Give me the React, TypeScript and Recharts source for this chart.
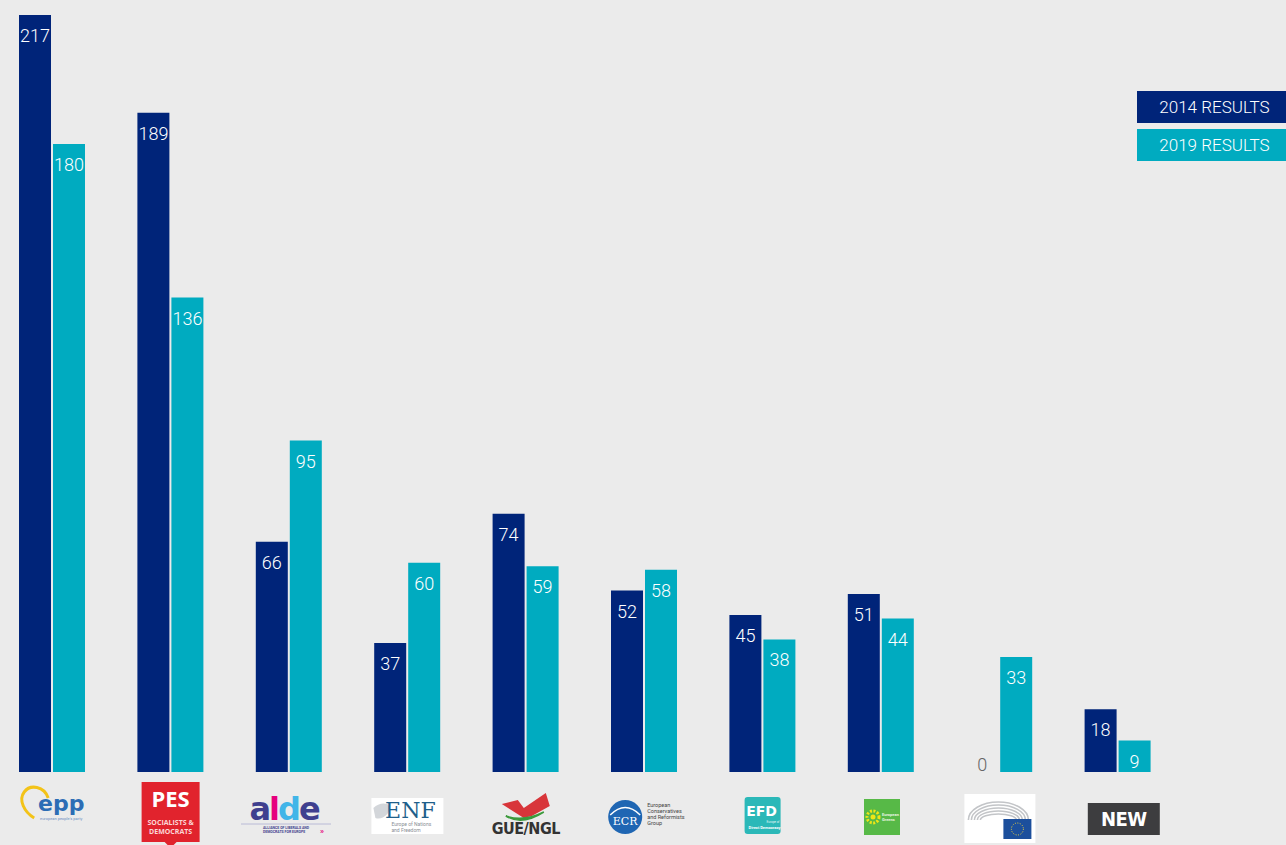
import React from "react";
import { BarChart, Bar, XAxis, YAxis, LabelList, Rectangle } from "recharts";

const groups = ["EPP", "S&D", "ALDE", "ENF", "GUE/NGL", "ECR", "EFDD", "Greens/EFA", "NI", "NEW"];
const results2014 = [217, 189, 66, 37, 74, 52, 45, 51, 0, 18];
const results2019 = [180, 136, 95, 60, 59, 58, 38, 44, 33, 9];
const seriesNames = ["2014 RESULTS", "2019 RESULTS"];
const DARK = "#002479";
const TEAL = "#00abc0";
const FONT = "Roboto, 'Liberation Sans', Arial, sans-serif";

const data = groups.map((g, i) => ({ group: g, r2014: results2014[i], r2019: results2019[i] }));

const ValueLabel = (props: any) => {
  const { x, y, width, value } = props;
  if (!value) return null;
  const cx = x + width / 2;
  return (
    <text x={cx} y={y + 27} textAnchor="middle" fill="#fff" fontSize={18} fontWeight={300} fontFamily={FONT}>
      {value}
    </text>
  );
};

const BarShape = (props: any) => {
  const { x, y, width, height, fill, value } = props;
  const v = Array.isArray(value) ? value[1] - value[0] : value;
  if (!height || v === 0) {
    return (
      <text x={x + width / 2} y={y - 1} textAnchor="middle" fill="#666" fontSize={18} fontWeight={300} fontFamily={FONT}>
        0
      </text>
    );
  }
  return <Rectangle x={x} y={y} width={width} height={height} fill={fill} />;
};

const Logo = ({ name, cx, y0 }: { name: string; cx: number; y0: number }) => {
  const t = (d: number) => y0 + d;
  switch (name) {
    case "EPP":
      return (
        <g>
          <path d={`M ${cx - 4} ${t(26)} C ${cx - 8} ${t(14)}, ${cx - 22} ${t(12)}, ${cx - 28} ${t(20)} C ${cx - 34} ${t(28)}, ${cx - 28} ${t(40)}, ${cx - 18} ${t(46)}`} fill="none" stroke="#f3c318" strokeWidth={3} />
          <text x={cx + 9} y={t(39)} textAnchor="middle" fill="#2c6db5" fontSize={22} fontWeight={700} fontFamily="'DejaVu Sans', sans-serif">epp</text>
          <text x={cx + 9} y={t(48)} textAnchor="middle" fill="#6b8fc4" fontSize={4} fontFamily={FONT}>european people's party</text>
        </g>
      );
    case "S&D":
      return (
        <g>
          <rect x={cx - 29} y={t(10)} width={58} height={60} fill="#e1232d" />
          <path d={`M ${cx - 6} ${t(70)} L ${cx + 6} ${t(70)} L ${cx} ${t(76)} Z`} fill="#e1232d" />
          <text x={cx} y={t(35)} textAnchor="middle" fill="#fff" fontSize={22} fontWeight={700} fontFamily="'Open Sans', sans-serif">PES</text>
          <text x={cx} y={t(53)} textAnchor="middle" fill="#fbd6d6" fontSize={7} fontWeight={700} fontFamily="'Open Sans', sans-serif">SOCIALISTS &amp;</text>
          <text x={cx} y={t(62)} textAnchor="middle" fill="#fbd6d6" fontSize={7} fontWeight={700} fontFamily="'Open Sans', sans-serif">DEMOCRATS</text>
        </g>
      );
    case "ALDE":
      return (
        <g>
          <line x1={cx - 48} y1={t(52)} x2={cx + 42} y2={t(52)} stroke="#b9bad6" strokeWidth={1} />
          <text x={cx - 5} y={t(48)} textAnchor="middle" fontSize={32} fontWeight={700} fontFamily="'DejaVu Sans', sans-serif" letterSpacing={-2}>
            <tspan fill="#3f3f8f">a</tspan>
            <tspan fill="#e6007e">l</tspan>
            <tspan fill="#41b5e8">d</tspan>
            <tspan fill="#3f3f8f">e</tspan>
          </text>
          <text x={cx - 26} y={t(57)} fill="#3f3f8f" fontSize={3.5} fontWeight={700} fontFamily={FONT}>ALLIANCE OF LIBERALS AND</text>
          <text x={cx - 26} y={t(61)} fill="#3f3f8f" fontSize={3.5} fontWeight={700} fontFamily={FONT}>DEMOCRATS FOR EUROPE</text>
          <text x={cx + 31} y={t(61)} fill="#e6007e" fontSize={8} fontWeight={700} fontFamily={FONT}>»</text>
        </g>
      );
    case "ENF":
      return (
        <g>
          <rect x={cx - 36} y={t(26)} width={72} height={36} fill="#fff" />
          <path d={`M ${cx - 34} ${t(36)} q 6 -6 14 -4 q 4 4 0 10 q -6 6 -12 4 z`} fill="#d3d6da" />
          <text x={cx + 3} y={t(46)} textAnchor="middle" fill="#1f5f8b" fontSize={22} fontFamily="'DejaVu Serif', serif">ENF</text>
          <text x={cx - 16} y={t(54)} fill="#8a8f96" fontSize={5} fontFamily={FONT}>Europe of Nations</text>
          <text x={cx - 16} y={t(60)} fill="#8a8f96" fontSize={5} fontFamily={FONT}>and Freedom</text>
        </g>
      );
    case "GUE/NGL":
      return (
        <g>
          <path d={`M ${cx - 24} ${t(32)} L ${cx - 8} ${t(28)} L ${cx - 2} ${t(36)} L ${cx + 20} ${t(21)} L ${cx + 24} ${t(34)} L ${cx + 6} ${t(44)} L ${cx - 2} ${t(46)} Z`} fill="#d8353a" />
          <path d={`M ${cx - 20} ${t(44)} Q ${cx - 4} ${t(54)} ${cx + 18} ${t(40)} Q ${cx - 2} ${t(50)} ${cx - 20} ${t(44)} Z`} fill="#3c9a3c" stroke="#3c9a3c" strokeWidth={1.5} />
          <text x={cx} y={t(62)} textAnchor="middle" fill="#333" fontSize={16} fontWeight={700} fontFamily="'DejaVu Sans Condensed', 'DejaVu Sans', sans-serif" letterSpacing={-0.5}>GUE/NGL</text>
        </g>
      );
    case "ECR":
      return (
        <g>
          <circle cx={cx - 19} cy={t(45)} r={17} fill="#1f66b3" />
          <path d={`M ${cx - 34} ${t(43)} Q ${cx - 19} ${t(28)} ${cx - 4} ${t(43)}`} fill="none" stroke="#fff" strokeWidth={1.5} />
          <text x={cx - 19} y={t(53)} textAnchor="middle" fill="#fff" fontSize={11} fontFamily="'DejaVu Serif', serif">ECR</text>
          <text x={cx + 3} y={t(35)} fill="#444" fontSize={5.5} fontFamily={FONT}>European</text>
          <text x={cx + 3} y={t(41)} fill="#444" fontSize={5.5} fontFamily={FONT}>Conservatives</text>
          <text x={cx + 3} y={t(47)} fill="#444" fontSize={5.5} fontFamily={FONT}>and Reformists</text>
          <text x={cx + 3} y={t(53)} fill="#444" fontSize={5.5} fontFamily={FONT}>Group</text>
        </g>
      );
    case "EFDD":
      return (
        <g>
          <rect x={cx - 18} y={t(25)} width={36} height={37} rx={3} fill="#2bb8b8" />
          <text x={cx - 1} y={t(44)} textAnchor="middle" fill="#fff" fontSize={14} fontWeight={700} fontFamily="'DejaVu Sans', sans-serif">EFD</text>
          <text x={cx + 4} y={t(51)} fill="#e4f7f7" fontSize={3} fontFamily={FONT}>Europe of</text>
          <text x={cx - 14} y={t(57)} fill="#fff" fontSize={4} fontWeight={700} fontFamily={FONT}>Direct Democracy</text>
        </g>
      );
    case "Greens/EFA":
      return (
        <g>
          <rect x={cx - 17} y={t(27)} width={36} height={36} fill="#57b947" />
          <circle cx={cx - 8} cy={t(45)} r={6} fill="none" stroke="#f0e516" strokeWidth={3} strokeDasharray="2 1.5" />
          <circle cx={cx - 8} cy={t(45)} r={2.5} fill="#f0e516" />
          <text x={cx + 1} y={t(44)} fill="#e8f5e0" fontSize={4} fontWeight={700} fontFamily={FONT}>European</text>
          <text x={cx + 1} y={t(49)} fill="#e8f5e0" fontSize={4} fontWeight={700} fontFamily={FONT}>Greens</text>
        </g>
      );
    case "NI":
      return (
        <g>
          <rect x={cx - 35} y={t(22)} width={71} height={49} fill="#fff" />
          {[0, 1, 2, 3, 4].map((k) => (
            <path key={k} d={`M ${cx - 31 + k * 3} ${t(48)} A ${30 - k * 3} ${18 - k * 3} 0 0 1 ${cx + 29 - k * 3} ${t(48)}`} fill="none" stroke="#c3c5c8" strokeWidth={1.6} />
          ))}
          <rect x={cx + 4} y={t(47)} width={28} height={20} fill="#1c4f9c" />
          <circle cx={cx + 18} cy={t(57)} r={6} fill="none" stroke="#f2d33b" strokeWidth={1} strokeDasharray="1 1.5" />
        </g>
      );
    case "NEW":
      return (
        <g>
          <rect x={cx - 30} y={t(31)} width={72} height={32} fill="#3d3d3f" />
          <text x={cx + 6} y={t(54)} textAnchor="middle" fill="#fff" fontSize={20} fontWeight={700} fontFamily="'DejaVu Sans Condensed', 'Liberation Sans Narrow', sans-serif" letterSpacing={-0.5}>NEW</text>
        </g>
      );
    default:
      return null;
  }
};

const LogoTick = (props: any) => {
  const { x, y, payload } = props;
  return <Logo name={payload.value} cx={x} y0={y} />;
};

const LegendBoxes = () => (
  <div style={{ position: "absolute", top: 91, left: 1144, width: 149, fontFamily: FONT }}>
    {seriesNames.map((n, i) => (
      <div
        key={n}
        style={{
          background: i === 0 ? DARK : TEAL,
          color: "#fff",
          height: 32,
          lineHeight: "32px",
          marginBottom: 6,
          fontSize: 17,
          fontWeight: 300,
          textAlign: "center",
          paddingLeft: 6,
          boxSizing: "border-box",
          whiteSpace: "nowrap",
        }}
      >
        {n}
      </div>
    ))}
  </div>
);

export default function App() {
  return (
    <div style={{ position: "absolute", left: -7, top: 0, width: 1293, height: 845, background: "#ebebeb" }}>
      <BarChart
        width={1293}
        height={845}
        data={data}
        margin={{ top: 15, right: 109, bottom: 0, left: 0 }}
        barSize={32}
        barGap={2}
      >
        <XAxis dataKey="group" height={73} axisLine={false} tickLine={false} tickSize={0} tickMargin={0} interval={0} tick={<LogoTick />} />
        <YAxis hide domain={[0, 217]} allowDataOverflow />
        <Bar dataKey="r2014" name={seriesNames[0]} fill={DARK} isAnimationActive={false} shape={<BarShape />}>
          <LabelList dataKey="r2014" content={<ValueLabel />} />
        </Bar>
        <Bar dataKey="r2019" name={seriesNames[1]} fill={TEAL} isAnimationActive={false} shape={<BarShape />}>
          <LabelList dataKey="r2019" content={<ValueLabel />} />
        </Bar>
      </BarChart>
      <LegendBoxes />
    </div>
  );
}
